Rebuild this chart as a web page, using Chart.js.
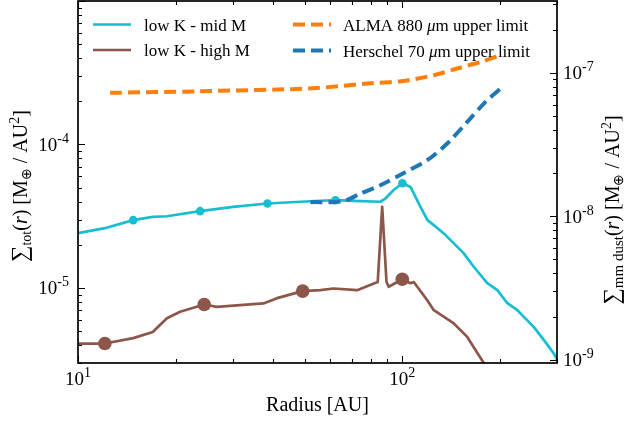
<!DOCTYPE html>
<html><head><meta charset="utf-8">
<script src="https://cdn.jsdelivr.net/npm/chart.js@4/dist/chart.umd.min.js"></script>
<style>html,body{margin:0;padding:0;background:#fff;}canvas{display:block;}</style>
</head><body>
<canvas id="c" width="628" height="423"></canvas>
<script>
// ---- data ----
const seriesLabels = ['low K - mid M', 'low K - high M', 'ALMA 880 \u03bcm upper limit', 'Herschel 70 \u03bcm upper limit'];

const cyanRadius = [10, 12.1, 14.8, 17.0, 18.8, 23.8, 30.1, 38.4, 48.5, 62.2, 74.3, 85.6, 88.7, 93.9, 100.1, 106, 113.8, 119.6, 125.1, 134.3, 154.5, 166.3, 182.9, 196.4, 210.9, 226.4, 254.2, 273.5, 293.1, 301];
const cyanSigma  = [2.41e-5, 2.61e-5, 2.97e-5, 3.13e-5, 3.16e-5, 3.43e-5, 3.67e-5, 3.88e-5, 3.99e-5, 4.09e-5, 4.03e-5, 3.99e-5, 4.20e-5, 4.80e-5, 5.37e-5, 5.06e-5, 3.67e-5, 2.97e-5, 2.74e-5, 2.40e-5, 1.75e-5, 1.40e-5, 1.08e-5, 9.65e-6, 7.83e-6, 7.00e-6, 5.36e-6, 4.33e-6, 3.50e-6, 3.14e-6];
const cyanMarkers = [14.8, 23.8, 38.4, 62.2, 100.1];

const brownRadius = [10, 12.1, 14.8, 17.0, 18.8, 20.65, 24.5, 26.8, 37.3, 41.1, 49.3, 55.9, 61.3, 72.6, 81.7, 84.0, 86.7, 89.4, 90.8, 100, 106, 108.5, 119.4, 125.1, 144.2, 158.6, 178.5, 190];
const brownSigma  = [4.10e-6, 4.10e-6, 4.47e-6, 4.94e-6, 6.16e-6, 6.82e-6, 7.67e-6, 7.38e-6, 7.80e-6, 8.49e-6, 9.50e-6, 9.65e-6, 9.92e-6, 9.65e-6, 1.075e-5, 1.10e-5, 3.67e-5, 1.10e-5, 1.02e-5, 1.15e-5, 1.08e-5, 1.10e-5, 8.22e-6, 7.00e-6, 5.66e-6, 4.56e-6, 2.99e-6, 2.6e-6];
const brownMarkers = [12.1, 24.5, 49.3, 100];

const almaRadius = [12.56, 23.8, 53.2, 77.9, 99.4, 124.9, 147.7, 174.4, 196.4];
const almaLimit  = [7.24e-8, 7.43e-8, 7.80e-8, 8.42e-8, 8.73e-8, 9.61e-8, 1.07e-7, 1.19e-7, 1.30e-7];

const herschelRadius = [52.1, 65.8, 74.3, 85.6, 101.1, 119.4, 137.6, 158.6, 178.5, 201.1];
const herschelLimit  = [1.253e-8, 1.273e-8, 1.44e-8, 1.645e-8, 2.0e-8, 2.46e-8, 3.21e-8, 4.54e-8, 6.10e-8, 7.77e-8];

const xTicks = [10, 100];          const xTickExp = ['1', '2'];
const yTicks = [1e-5, 1e-4];       const yTickExp = ['-5', '-4'];
const y2Ticks = [1e-9, 1e-8, 1e-7]; const y2TickExp = ['-9', '-8', '-7'];

// ---- helpers ----
const FONT = '"Liberation Serif", "Times New Roman", serif';
const zip = (xs, ys) => xs.map((x, i) => ({x: x, y: ys[i]}));
function rich(ctx, parts, x, y, align, rot) {
  ctx.save();
  ctx.translate(x, y);
  if (rot) ctx.rotate(rot);
  ctx.textBaseline = 'alphabetic';
  ctx.textAlign = 'left';
  let w = 0;
  const ws = parts.map(p => { ctx.font = (p.i ? 'italic ' : '') + p.s + 'px ' + FONT; const m = ctx.measureText(p.t).width; w += m; return m; });
  let cx = align === 'center' ? -w / 2 : (align === 'right' ? -w : 0);
  parts.forEach((p, k) => { ctx.font = (p.i ? 'italic ' : '') + p.s + 'px ' + FONT; ctx.fillText(p.t, cx, p.dy || 0); cx += ws[k]; });
  ctx.restore();
}
function logTicks(min, max) {
  const out = [];
  for (let e = Math.floor(Math.log10(min)) - 1; e <= Math.ceil(Math.log10(max)); e++) {
    for (let k = 1; k <= 9; k++) {
      const v = k * Math.pow(10, e);
      if (v >= min * (1 - 1e-9) && v <= max * (1 + 1e-9)) out.push({v: v, major: k === 1});
    }
  }
  return out;
}

const deco = {
  id: 'deco',
  afterDraw(chart) {
    const ctx = chart.ctx, a = chart.chartArea, sx = chart.scales.x, sy = chart.scales.y, sy2 = chart.scales.y2;
    ctx.save();
    ctx.strokeStyle = '#000';
    ctx.fillStyle = '#000';
    // ticks (inward)
    ctx.lineWidth = 1.1;
    ctx.beginPath();
    logTicks(sx.min, sx.max).forEach(t => {
      const p = Math.round(sx.getPixelForValue(t.v)) + 0.5, L = t.major ? 7 : 4;
      ctx.moveTo(p, a.bottom); ctx.lineTo(p, a.bottom - L);
      ctx.moveTo(p, a.top); ctx.lineTo(p, a.top + L);
    });
    logTicks(sy.min, sy.max).forEach(t => {
      const p = Math.round(sy.getPixelForValue(t.v)) + 0.5, L = t.major ? 7 : 4;
      ctx.moveTo(a.left, p); ctx.lineTo(a.left + L, p);
    });
    logTicks(sy2.min, sy2.max).forEach(t => {
      const p = Math.round(sy2.getPixelForValue(t.v)) + 0.5, L = t.major ? 7 : 4;
      ctx.moveTo(a.right, p); ctx.lineTo(a.right - L, p);
    });
    ctx.stroke();
    // frame
    ctx.lineWidth = 1.7;
    ctx.strokeRect(a.left, a.top, a.right - a.left, a.bottom - a.top);
    // tick labels
    xTicks.forEach((v, i) => rich(ctx, [{t: '10', s: 19}, {t: xTickExp[i], s: 14, dy: -8}], sx.getPixelForValue(v), a.bottom + 22, 'center'));
    yTicks.forEach((v, i) => rich(ctx, [{t: '10', s: 19}, {t: yTickExp[i], s: 14, dy: -8}], a.left - 9, sy.getPixelForValue(v) + 6.5, 'right'));
    y2Ticks.forEach((v, i) => rich(ctx, [{t: '10', s: 19}, {t: y2TickExp[i], s: 14, dy: -8}], a.right + 6, sy2.getPixelForValue(v) + 6.5, 'left'));
    // axis titles
    rich(ctx, [{t: 'Radius [AU]', s: 20}], (a.left + a.right) / 2, 411, 'center');
    const tail = [{t: '(', s: 20}, {t: 'r', s: 20, i: true}, {t: ')', s: 20}, {t: ' [M', s: 20}, {t: '\u2295', s: 14, dy: 4}, {t: ' / AU', s: 20}, {t: '2', s: 14, dy: -8}, {t: ']', s: 20}];
    rich(ctx, [{t: '\u2211', s: 23}, {t: 'tot', s: 14, dy: 4}].concat(tail), 27, 186, 'center', -Math.PI / 2);
    rich(ctx, [{t: '\u2211', s: 23}, {t: 'mm dust', s: 15, dy: 4}].concat(tail), 619, 210, 'center', -Math.PI / 2);
    // legend
    const ds = chart.data.datasets;
    const rows = [{d: ds[0], x0: 93, x1: 131, tx: 144, y: 24.5}, {d: ds[1], x0: 93, x1: 131, tx: 144, y: 50},
                  {d: ds[2], x0: 293, x1: 331, tx: 343, y: 24.5}, {d: ds[3], x0: 293, x1: 331, tx: 343, y: 50.5}];
    rows.forEach(r => {
      ctx.save();
      ctx.strokeStyle = r.d.borderColor; ctx.lineWidth = r.d.borderWidth; ctx.lineCap = 'butt';
      ctx.setLineDash(r.d.borderDash || []);
      ctx.beginPath(); ctx.moveTo(r.x0, r.y); ctx.lineTo(r.x1, r.y); ctx.stroke();
      ctx.restore();
      const lab = r.d.label;
      const k = lab.indexOf('\u03bc');
      const parts = k < 0 ? [{t: lab, s: 17}] : [{t: lab.slice(0, k), s: 17}, {t: '\u03bc', s: 17, i: true}, {t: lab.slice(k + 1), s: 17}];
      ctx.fillStyle = '#000';
      rich(ctx, parts, r.tx, r.y + 6, 'left');
    });
    ctx.restore();
  }
};

const markerR = (set, r) => c => (c.raw && set.includes(c.raw.x)) ? r : 0;

new Chart(document.getElementById('c'), {
  type: 'line',
  data: {
    datasets: [
      {label: seriesLabels[0], data: zip(cyanRadius, cyanSigma), yAxisID: 'y', borderColor: '#17becf', backgroundColor: '#17becf',
       borderWidth: 2.7, pointRadius: markerR(cyanMarkers, 4.3), pointBorderWidth: 0, pointHoverRadius: 0, tension: 0, order: 4, borderJoinStyle: 'round'},
      {label: seriesLabels[1], data: zip(brownRadius, brownSigma), yAxisID: 'y', borderColor: '#8c564b', backgroundColor: '#8c564b',
       borderWidth: 2.7, pointRadius: markerR(brownMarkers, 6.8), pointBorderWidth: 0, pointHoverRadius: 0, tension: 0, order: 3, borderJoinStyle: 'round'},
      {label: seriesLabels[2], data: zip(almaRadius, almaLimit), yAxisID: 'y2', borderColor: '#ff7f0e', backgroundColor: '#ff7f0e',
       borderWidth: 4, borderDash: [12, 6], borderCapStyle: 'butt', pointRadius: 0, pointHoverRadius: 0, tension: 0.3, order: 2},
      {label: seriesLabels[3], data: zip(herschelRadius, herschelLimit), yAxisID: 'y2', borderColor: '#1f77b4', backgroundColor: '#1f77b4',
       borderWidth: 4, borderDash: [12, 6], borderCapStyle: 'butt', pointRadius: 0, pointHoverRadius: 0, tension: 0.3, order: 1}
    ]
  },
  options: {
    responsive: false, animation: false, devicePixelRatio: 1, events: [],
    layout: {padding: {left: 78, right: 71, top: 1, bottom: 60}},
    scales: {
      x: {type: 'logarithmic', min: 10, max: 300, display: false},
      y: {type: 'logarithmic', min: 3e-6, max: 1e-3, display: false},
      y2: {type: 'logarithmic', position: 'right', min: 3e-6 / Math.pow(10, 3.5), max: 1e-3 / Math.pow(10, 3.5), display: false}
    },
    plugins: {legend: {display: false}, tooltip: {enabled: false}}
  },
  plugins: [deco]
});
</script>
</body></html>
